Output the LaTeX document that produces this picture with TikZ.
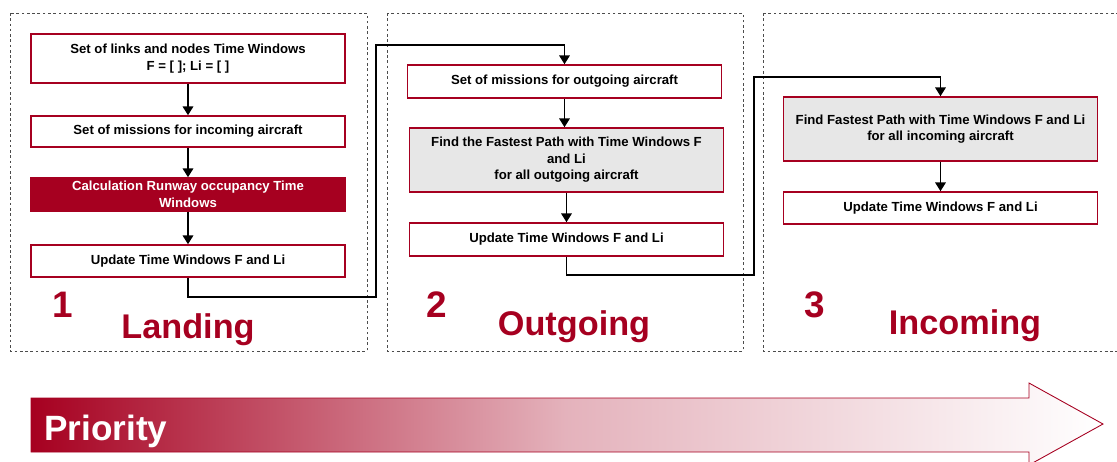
\documentclass[tikz,border=0pt]{standalone}
\usepackage{fontspec}
\setmainfont{Liberation Sans}
\usetikzlibrary{arrows.meta}

\definecolor{prioRed}{RGB}{166,0,32}
\definecolor{pathGray}{RGB}{231,231,231}

\tikzset{
	stagebox/.style={draw=prioRed, line width=0.9pt, fill=white, minimum width=6.28cm, inner sep=0pt, align=center, font=\fontsize{7.5}{9.4}\selectfont\bfseries},
	pathbox/.style={stagebox, fill=pathGray},
	runwaybox/.style={stagebox, fill=prioRed, text=white},
	panel/.style={draw=black!70, dash pattern=on 1.5pt off 1.5pt, line width=0.5pt},
	flow/.style={line width=0.9pt, -{Triangle[width=6pt,length=5pt]}},
	stagenum/.style={text=prioRed, anchor=base, font=\fontsize{21}{21}\selectfont\bfseries},
	stagename/.style={text=prioRed, anchor=base, font=\fontsize{19.5}{19.5}\selectfont\bfseries},
}

\begin{document}
\begin{tikzpicture}[x=0.02cm, y=-0.02cm]
	%%%%% FRAME %%%%%
	\useasboundingbox (0,0) rectangle (1117,461);
	\clip (0,0) rectangle (1117,461);
	
	%%%%% PANELS %%%%%
	\draw[panel] (10,13) rectangle (367,351);
	\draw[panel] (387,13) rectangle (743,351);
	\draw[panel] (763,13) rectangle (1130,351);
	
	%%%%% LANDING %%%%%
	\node[stagebox, minimum height=0.98cm] (links) at (188,58.5) {Set of links and nodes Time Windows\\F = [ ]; Li = [ ]};
	\node[stagebox, minimum height=0.62cm] (missin) at (188,131.5) {Set of missions for incoming aircraft};
	\node[runwaybox, minimum height=0.66cm] (runway) at (188,194.5) {Calculation Runway occupancy Time\\Windows};
	\node[stagebox, minimum height=0.64cm] (updland) at (188,261) {Update Time Windows F and Li};
	
	\draw[flow] (links) -- (missin);
	\draw[flow] (missin) -- (runway);
	\draw[flow] (runway) -- (updland);
	
	\node[stagenum] (numland) at (63,317) {1};
	\node[stagename] (landing) at (188,338) {Landing};
	
	%%%%% OUTGOING %%%%%
	\node[stagebox, minimum height=0.66cm] (missout) at (564.5,81.5) {Set of missions for outgoing aircraft};
	\node[pathbox, minimum height=1.28cm] (pathout) at (566.5,160) {Find the Fastest Path with Time Windows F\\and Li\\for all outgoing aircraft};
	\node[stagebox, minimum height=0.66cm] (updout) at (566.5,239.5) {Update Time Windows F and Li};
	
	\draw[flow] (missout) -- (pathout.north -| missout);
	\draw[flow] (pathout) -- (updout);
	
	\node[stagenum] (numout) at (437,317) {2};
	\node[stagename] (outgoing) at (574,335) {Outgoing};
	
	%%%%% INCOMING %%%%%
	\node[pathbox, minimum height=1.28cm] (pathin) at (940.5,129) {Find Fastest Path with Time Windows F and Li\\for all incoming aircraft};
	\node[stagebox, minimum height=0.64cm] (updin) at (940.5,208) {Update Time Windows F and Li};
	
	\draw[flow] (pathin) -- (updin);
	
	\node[stagenum] (numin) at (815,317) {3};
	\node[stagename] (incoming) at (965,334) {Incoming};
	
	%%%%% LINKS BETWEEN STAGES %%%%%
	\coordinate (bendA) at (376,297);
	\coordinate (bendB) at (376,45);
	\draw[flow] (updland.south) |- (bendA) -- (bendB) -| (missout.north);
	
	\coordinate (bendC) at (754,275);
	\coordinate (bendD) at (754,77);
	\draw[flow] (updout.south) |- (bendC) -- (bendD) -| (pathin.north);
	
	%%%%% PRIORITY %%%%%
	\shade[left color=prioRed, right color=white, middle color=prioRed!30!white]
		(31,398) -- (1029,398) -- (1029,383) -- (1103,424) -- (1029,465) -- (1029,452) -- (31,452) -- cycle;
	\draw[prioRed, line width=0.5pt]
		(31,398) -- (1029,398) -- (1029,383) -- (1103,424) -- (1029,465) -- (1029,452) -- (31,452) -- cycle;
	\node[anchor=base west, text=white, inner sep=0pt, font=\fontsize{20}{20}\selectfont\bfseries] (prio) at (44,440) {Priority};
	
\end{tikzpicture}
\end{document}
